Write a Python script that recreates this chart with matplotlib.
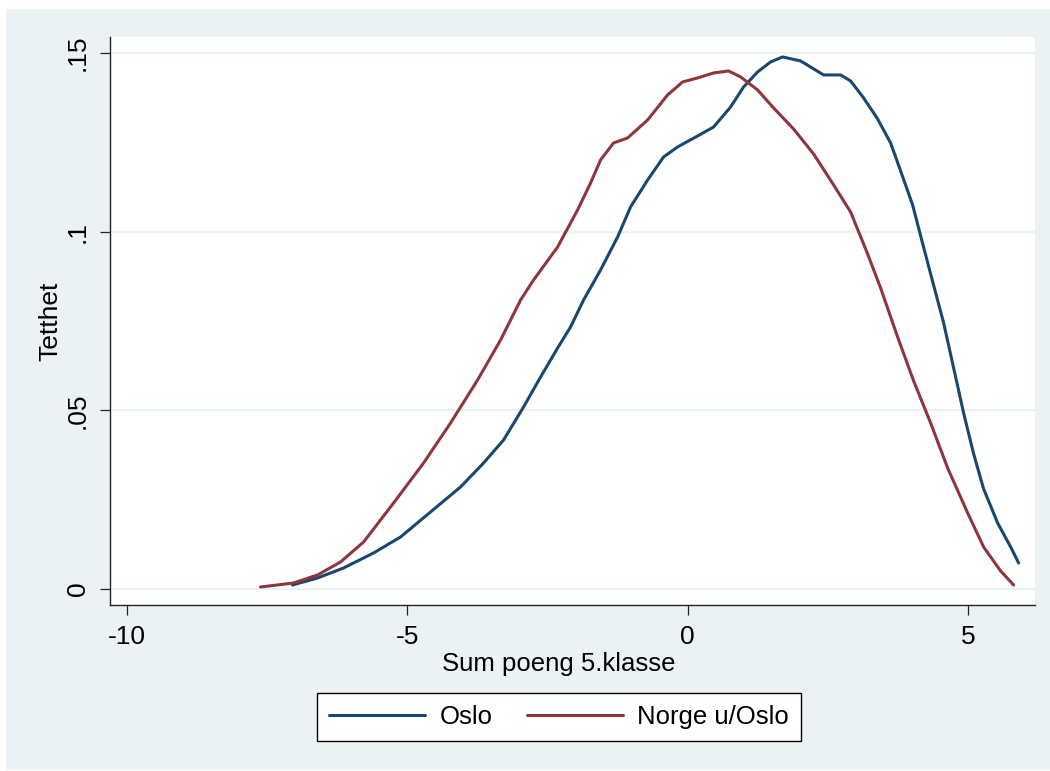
import matplotlib.pyplot as plt
from matplotlib.patches import Rectangle

# kernel density estimates, read as (score, density) pairs
oslo_x = [-7.045, -6.599, -6.135, -5.600, -5.119, -4.584, -4.049, -3.638, -3.282,
          -2.925, -2.622, -2.443, -2.318, -2.087, -1.855, -1.552, -1.248, -1.017,
          -0.713, -0.428, -0.178, 0.178, 0.464, 0.767, 0.999, 1.248, 1.480, 1.694,
          2.015, 2.426, 2.729, 2.907, 3.139, 3.389, 3.620, 3.799, 4.013, 4.156,
          4.334, 4.566, 4.744, 4.922, 5.101, 5.279, 5.529, 5.761, 5.903]
oslo_y = [0.00112, 0.00308, 0.00588, 0.01008, 0.01455, 0.02155, 0.02855, 0.03526,
          0.04170, 0.05094, 0.05933, 0.06409, 0.06745, 0.07333, 0.08088, 0.08928,
          0.09852, 0.10691, 0.11447, 0.12091, 0.12371, 0.12678, 0.12930, 0.13490,
          0.14050, 0.14470, 0.14750, 0.14890, 0.14778, 0.14386, 0.14386, 0.14218,
          0.13742, 0.13154, 0.12482, 0.11699, 0.10747, 0.09880, 0.08816, 0.07445,
          0.06185, 0.04926, 0.03778, 0.02799, 0.01847, 0.01175, 0.00728]

norge_x = [-7.615, -7.027, -6.599, -6.189, -5.778, -5.243, -4.708, -4.227, -3.745,
           -3.335, -2.978, -2.747, -2.318, -1.962, -1.730, -1.552, -1.320, -1.070,
           -0.713, -0.357, -0.089, 0.178, 0.464, 0.731, 0.945, 1.248, 1.534, 1.890,
           2.247, 2.604, 2.907, 3.210, 3.442, 3.745, 4.031, 4.334, 4.637, 4.994,
           5.279, 5.582, 5.814]
norge_y = [0.00056, 0.00168, 0.00392, 0.00756, 0.01315, 0.02407, 0.03526, 0.04646,
           0.05849, 0.06969, 0.08088, 0.08648, 0.09572, 0.10607, 0.11363, 0.12007,
           0.12483, 0.12623, 0.13126, 0.13826, 0.14190, 0.14302, 0.14442, 0.14498,
           0.14330, 0.13966, 0.13462, 0.12874, 0.12175, 0.11307, 0.10551, 0.09376,
           0.08424, 0.07053, 0.05821, 0.04646, 0.03387, 0.02127, 0.01175, 0.00504,
           0.00112]

x_ticks = [-10, -5, 0, 5]
y_ticks = [0, 0.05, 0.1, 0.15]
y_tick_labels = ['0', '.05', '.1', '.15']

navy = '#1A476F'
maroon = '#90353B'
bluishgray = '#EAF2F3'

plt.rcParams['font.family'] = ['Liberation Sans', 'DejaVu Sans']

W, H = 1050, 771
fig = plt.figure(figsize=(W / 100, H / 100), dpi=100, facecolor='white')
fig.patches.append(Rectangle((6 / W, 1 / H), 1044 / W, 761 / H,
                             transform=fig.transFigure, facecolor=bluishgray,
                             edgecolor='none', zorder=-10))

ax = fig.add_axes([110 / W, 1 - 605 / H, 925 / W, 568 / H])
ax.set_facecolor('white')

ax.plot(oslo_x, oslo_y, color=navy, lw=2.2, label='Oslo', solid_capstyle='round')
ax.plot(norge_x, norge_y, color=maroon, lw=2.2, label='Norge u/Oslo',
        solid_capstyle='round')

ax.set_xlim(-10.30, 6.195)
ax.set_ylim(-0.00448, 0.15448)

ax.set_xticks(x_ticks)
ax.set_xticklabels([str(t) for t in x_ticks])
ax.set_yticks(y_ticks)
ax.set_yticklabels(y_tick_labels, rotation=90, va='center')
ax.tick_params(axis='both', direction='out', length=7.5, width=0.9,
               labelsize=19, color='#222222', pad=7)
ax.grid(axis='y', color=bluishgray, lw=1.6)
ax.set_axisbelow(True)

for side in ['top', 'right']:
    ax.spines[side].set_visible(False)
for side in ['left', 'bottom']:
    ax.spines[side].set_linewidth(1.0)
    ax.spines[side].set_color('#222222')

fig.text(559 / W, 1 - 664 / H, 'Sum poeng 5.klasse', fontsize=18.5,
         ha='center', va='center')
fig.text(50 / W, 1 - 321 / H, 'Tetthet', fontsize=19, rotation=90,
         ha='center', va='center')

fig.legend(loc='center', bbox_to_anchor=(559 / W, 1 - 717 / H), ncol=2,
           fontsize=18.5, frameon=True, fancybox=False, edgecolor='black',
           framealpha=1, handlelength=3.75, handletextpad=0.55,
           columnspacing=1.35, borderpad=0.45)

fig.savefig('out.png', dpi=100, facecolor='white')
